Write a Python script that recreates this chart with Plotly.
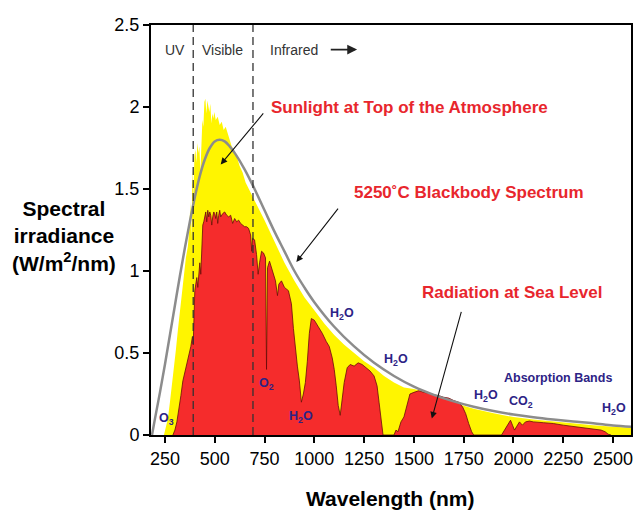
import plotly.graph_objects as go

# ---------------- data ----------------
# Sunlight at top of the atmosphere (yellow)
toa_wl = [245, 255, 265, 275, 285, 295, 305, 315, 325, 335, 345, 355, 365, 372, 378, 383, 388, 393,
          398, 403, 408, 413, 418, 423, 428, 433, 438, 443, 448, 453, 458, 463, 468, 473, 478, 483,
          488, 493, 498, 505, 515, 525, 535, 545, 555, 565, 575, 585, 595, 610, 625, 640, 655, 670,
          685, 700, 750, 800, 850, 900, 950, 1000, 1050, 1100, 1150, 1200, 1250, 1300, 1350, 1400,
          1450, 1500, 1550, 1600, 1650, 1700, 1750, 1800, 1850, 1900, 1950, 2000, 2100, 2200, 2300,
          2400, 2500, 2600]
toa_val = [0.0, 0.05, 0.10, 0.20, 0.30, 0.42, 0.52, 0.64, 0.76, 0.88, 0.99, 1.08, 1.15, 1.25, 1.42,
           1.20, 1.62, 1.45, 1.70, 1.74, 1.66, 1.78, 1.72, 1.76, 1.60, 1.85, 1.92, 1.88, 2.03, 2.05,
           1.96, 2.04, 2.00, 1.97, 2.02, 1.90, 1.96, 1.93, 1.97, 1.92, 1.94, 1.89, 1.91, 1.86, 1.88,
           1.84, 1.80, 1.76, 1.74, 1.70, 1.64, 1.60, 1.54, 1.50, 1.46, 1.43, 1.31, 1.18, 1.05, 0.94,
           0.84, 0.76, 0.68, 0.61, 0.55, 0.50, 0.45, 0.41, 0.36, 0.32, 0.29, 0.28, 0.265, 0.24,
           0.218, 0.197, 0.178, 0.16, 0.145, 0.132, 0.12, 0.11, 0.095, 0.082, 0.07, 0.06, 0.05, 0.043]

# Radiation at sea level (red)
sea_wl = [290, 300, 310, 320, 330, 340, 350, 360, 370, 380, 388, 392, 396, 400, 405, 410, 415, 420,
          425, 430, 435, 440, 445, 450, 455, 460, 465, 470, 475, 480, 485, 490, 495, 500, 505, 510,
          515, 520, 525, 530, 540, 550, 560, 570, 580, 590, 595, 600, 610, 620, 630, 640, 650, 660,
          670, 680, 686, 690, 700, 710, 718, 725, 735, 745, 755, 760, 765, 775, 790, 805, 815, 822,
          835, 850, 870, 885, 895, 905, 915, 925, 935, 945, 955, 965, 975, 985, 1000, 1020, 1040,
          1060, 1075, 1090, 1100, 1110, 1120, 1130, 1140, 1150, 1165, 1180, 1200, 1220, 1240, 1260,
          1280, 1300, 1315, 1325, 1335, 1345, 1400, 1410, 1420, 1435, 1450, 1465, 1480, 1500, 1525,
          1550, 1575, 1600, 1625, 1650, 1675, 1700, 1725, 1745, 1760, 1775, 1790, 1800, 1940, 1955,
          1970, 1985, 1995, 2005, 2015, 2030, 2045, 2060, 2080, 2100, 2150, 2200, 2250, 2300, 2350,
          2400, 2440, 2460, 2475, 2490]
sea_val = [0.0, 0.03, 0.08, 0.15, 0.24, 0.33, 0.38, 0.43, 0.49, 0.54, 0.60, 0.55, 0.72, 0.88, 0.92,
           0.96, 0.90, 1.00, 1.05, 0.98, 1.15, 1.28, 1.30, 1.33, 1.36, 1.30, 1.37, 1.33, 1.36, 1.34,
           1.28, 1.33, 1.36, 1.35, 1.32, 1.36, 1.29, 1.34, 1.37, 1.33, 1.35, 1.36, 1.34, 1.33, 1.34,
           1.29, 1.31, 1.32, 1.30, 1.31, 1.29, 1.28, 1.27, 1.27, 1.26, 1.22, 1.12, 1.20, 1.19, 1.10,
           0.98, 1.05, 1.12, 1.11, 1.08, 0.40, 1.02, 1.06, 1.00, 0.94, 0.85, 0.92, 0.94, 0.90, 0.88,
           0.80, 0.65, 0.52, 0.42, 0.33, 0.20, 0.25, 0.32, 0.45, 0.62, 0.71, 0.70, 0.66, 0.62, 0.57,
           0.54, 0.47, 0.40, 0.30, 0.18, 0.12, 0.22, 0.32, 0.41, 0.43, 0.42, 0.44, 0.43, 0.41, 0.39,
           0.36, 0.30, 0.20, 0.09, 0.0, 0.0, 0.03, 0.02, 0.08, 0.11, 0.18, 0.25, 0.26, 0.27, 0.26,
           0.255, 0.245, 0.24, 0.23, 0.225, 0.21, 0.20, 0.17, 0.13, 0.07, 0.02, 0.0, 0.0, 0.03, 0.06,
           0.09, 0.06, 0.03, 0.05, 0.08, 0.06, 0.08, 0.085, 0.08, 0.075, 0.07, 0.06, 0.052, 0.045,
           0.035, 0.03, 0.02, 0.005, 0.0]

# 5250 C blackbody spectrum (grey curve)
bb_wl = [185, 200, 225, 250, 275, 300, 325, 350, 375, 400, 425, 450, 475, 500, 525, 550, 575, 600,
         650, 700, 750, 800, 850, 900, 950, 1000, 1100, 1200, 1300, 1400, 1500, 1600, 1700, 1800,
         1900, 2000, 2100, 2200, 2300, 2400, 2500, 2600]
bb_val = [0.0, 0.10, 0.26, 0.43, 0.61, 0.79, 0.97, 1.14, 1.30, 1.45, 1.58, 1.68, 1.75, 1.79, 1.80,
          1.79, 1.76, 1.72, 1.62, 1.50, 1.37, 1.24, 1.12, 1.00, 0.90, 0.81, 0.66, 0.54, 0.44, 0.36,
          0.295, 0.245, 0.205, 0.172, 0.146, 0.125, 0.108, 0.094, 0.082, 0.072, 0.058, 0.05]

band_edges = [392, 692]          # UV | Visible | Infrared boundaries (nm)
x_ticks = [250, 500, 750, 1000, 1250, 1500, 1750, 2000, 2250, 2500]
y_ticks = [0, 0.5, 1, 1.5, 2, 2.5]

# molecule labels: (text, wavelength, irradiance)
mol_labels = [
    ("O<sub>3</sub>", 260, 0.10),
    ("O<sub>2</sub>", 760, 0.31),
    ("H<sub>2</sub>O", 935, 0.11),
    ("H<sub>2</sub>O", 1140, 0.74),
    ("H<sub>2</sub>O", 1410, 0.46),
    ("H<sub>2</sub>O", 1860, 0.24),
    ("CO<sub>2</sub>", 2040, 0.20),
    ("Absorption Bands", 2225, 0.35),
    ("H<sub>2</sub>O", 2505, 0.16),
]

FONT = "Liberation Sans, Arial, Helvetica, sans-serif"

fig = go.Figure()
fig.add_trace(go.Scatter(x=toa_wl, y=toa_val, mode="lines", fill="tozeroy",
                         fillcolor="#fff500", line=dict(width=0, color="#fff500"),
                         hoverinfo="skip"))
fig.add_trace(go.Scatter(x=sea_wl, y=sea_val, mode="lines", fill="tozeroy",
                         fillcolor="#f52c2c", line=dict(width=0.8, color="#6a0a0a"),
                         hoverinfo="skip"))
fig.add_trace(go.Scatter(x=bb_wl, y=bb_val, mode="lines", line=dict(width=2.5, color="#8c8c8c"),
                         line_shape="spline", hoverinfo="skip"))

for b in band_edges:
    fig.add_shape(type="line", x0=b, x1=b, y0=0, y1=2.5, xref="x", yref="y",
                  line=dict(color="#333333", width=1.3, dash="8px,5px"), layer="above")

annotations = []
# region labels along top
for txt, xv in [("UV", 300), ("Visible", 540), ("Infrared", 900)]:
    annotations.append(dict(x=xv, y=2.35, xref="x", yref="y", text=txt, showarrow=False,
                            font=dict(family=FONT, size=14, color="#333333")))
annotations.append(dict(x=1215, y=2.35, ax=1075, ay=2.35, xref="x", yref="y", axref="x", ayref="y",
                        text="", showarrow=True, arrowhead=2, arrowsize=1.1, arrowwidth=1.8,
                        arrowcolor="#222222"))

# red titles
red_font = dict(family=FONT, size=17, color="#e8262d")
annotations.append(dict(x=1480, y=2.0, xref="x", yref="y", showarrow=False,
                        text="<b>Sunlight at Top of the Atmosphere</b>", font=red_font))
annotations.append(dict(x=1775, y=1.48, xref="x", yref="y", showarrow=False,
                        text="<b>5250˚C Blackbody Spectrum</b>", font=red_font))
annotations.append(dict(x=1990, y=0.87, xref="x", yref="y", showarrow=False,
                        text="<b>Radiation at Sea Level</b>", font=red_font))
# pointer arrows
for (hx, hy, tx, ty) in [(530, 1.65, 750, 1.97), (910, 1.055, 1125, 1.39), (1590, 0.10, 1740, 0.76)]:
    annotations.append(dict(x=hx, y=hy, ax=tx, ay=ty, xref="x", yref="y", axref="x", ayref="y",
                            text="", showarrow=True, arrowhead=2, arrowsize=1.2, arrowwidth=1.1,
                            arrowcolor="#111111"))

for txt, xv, yv in mol_labels:
    annotations.append(dict(x=xv, y=yv, xref="x", yref="y", showarrow=False,
                            text="<b>" + txt + "</b>",
                            font=dict(family=FONT, size=12.5, color="#2d2386")))

# axis titles (pixel positions, converted to paper coordinates below)
annotations.append(dict(x=64, y=236, xref="paper", yref="paper", showarrow=False,
                        text="<b>Spectral<br>irradiance<br>(W/m<sup>2</sup>/nm)</b>",
                        font=dict(family=FONT, size=21, color="black")))
annotations.append(dict(x=391, y=499, xref="paper", yref="paper", showarrow=False,
                        text="<b>Wavelength (nm)</b>",
                        font=dict(family=FONT, size=21, color="black")))

L, R, T, B = 151, 5, 25, 78
W, H = 638, 513
pw, ph = W - L - R, H - T - B
for a in annotations[-2:]:
    a["x"] = (a["x"] - L) / pw
    a["y"] = (H - B - a["y"]) / ph
    a["xanchor"] = "center"
    a["yanchor"] = "middle"

fig.update_layout(
    width=W, height=H,
    margin=dict(l=L, r=R, t=T, b=B, pad=0),
    paper_bgcolor="white", plot_bgcolor="white",
    showlegend=False,
    annotations=annotations,
    xaxis=dict(range=[180, 2590], tickvals=x_ticks, ticks="outside", ticklen=6, tickwidth=1.5,
               tickcolor="black", showline=True, linecolor="black", linewidth=2, mirror=True,
               showgrid=False, zeroline=False,
               tickfont=dict(family=FONT, size=18, color="black")),
    yaxis=dict(range=[0, 2.5], tickvals=y_ticks, ticks="outside", ticklen=6, tickwidth=1.5,
               tickcolor="black", showline=True, linecolor="black", linewidth=2, mirror=True,
               showgrid=False, zeroline=False,
               tickfont=dict(family=FONT, size=18, color="black")),
)

fig.write_html("out.html", config={"displayModeBar": False},
               post_script="document.body.style.margin='0px';document.body.style.overflow='hidden';")
